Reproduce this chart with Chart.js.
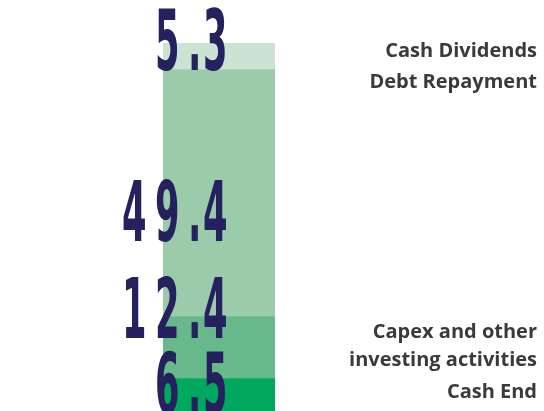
<!DOCTYPE html>
<html>
<head>
<meta charset="utf-8">
<script src="https://cdn.jsdelivr.net/npm/chart.js@4"></script>
<style>
  html, body { margin: 0; padding: 0; background: #ffffff; }
  #wrap { width: 544px; height: 411px; position: relative; }
</style>
</head>
<body>
<div id="wrap"><canvas id="chartCaixa" width="544" height="411"></canvas></div>
<script>
// dados do gráfico (de baixo para cima)
const categorias = ['Cash Flow'];
const series = ['Cash End', 'Capex and other investing activities', 'Debt Repayment', 'Cash Dividends'];
const valores = [6.5, 12.4, 49.4, 5.3];
const rotulos = ['6.5', '12.4', '49.4', '5.3'];
const legendas = [['Cash End'], ['Capex and other', 'investing activities'], ['Debt Repayment'], ['Cash Dividends']];

const cores = ['#00a85f', '#67b98b', '#9ccbab', '#cce3d3'];
const total = valores.reduce((a, b) => a + b, 0);

// deslocamento (px) da linha de base a partir do topo de cada segmento
const offsetNumero = [34, 21, 171, 27];
const offsetLegenda = [19, 21, 18, 14];

function desenharNumero(ctx, texto, xDireita, yBase) {
  const escala = 0.42;
  ctx.save();
  ctx.font = 'bold 84px "DejaVu Sans"';
  ctx.fillStyle = '#24215e';
  ctx.textBaseline = 'alphabetic';
  const larguras = [...texto].map(ch => ch === '.' ? 15 : 33);
  let x = xDireita - larguras.reduce((a, b) => a + b, 0) + 11;
  [...texto].forEach((ch, i) => {
    ctx.save();
    ctx.translate(x, yBase);
    ctx.scale(escala, 1);
    ctx.fillText(ch, 0, 0);
    ctx.restore();
    x += larguras[i];
  });
  ctx.restore();
}

const pluginRotulos = {
  id: 'rotulos',
  afterDatasetsDraw(chart) {
    const ctx = chart.ctx;
    chart.data.datasets.forEach((ds, i) => {
      const barra = chart.getDatasetMeta(i).data[0];
      const topo = barra.y;
      desenharNumero(ctx, rotulos[i], 225, topo + offsetNumero[i]);

      ctx.save();
      ctx.font = 'bold 20px "Open Sans"';
      ctx.fillStyle = '#3a3a3a';
      ctx.textAlign = 'right';
      legendas[i].forEach((linha, j) => {
        ctx.fillText(linha, 537, topo + offsetLegenda[i] + j * 28);
      });
      ctx.restore();
    });
  }
};

new Chart(document.getElementById('chartCaixa').getContext('2d'), {
  type: 'bar',
  data: {
    labels: categorias,
    datasets: series.map((nome, i) => ({
      label: nome,
      data: [valores[i]],
      backgroundColor: cores[i],
      borderWidth: 0,
      barPercentage: 1,
      categoryPercentage: 1
    }))
  },
  options: {
    responsive: false,
    animation: false,
    layout: { padding: { left: 163, right: 269, top: 43, bottom: 0 } },
    plugins: { legend: { display: false }, tooltip: { enabled: false } },
    scales: {
      x: { stacked: true, display: false },
      y: { stacked: true, display: false, min: 0, max: total }
    }
  },
  plugins: [pluginRotulos]
});
</script>
</body>
</html>
